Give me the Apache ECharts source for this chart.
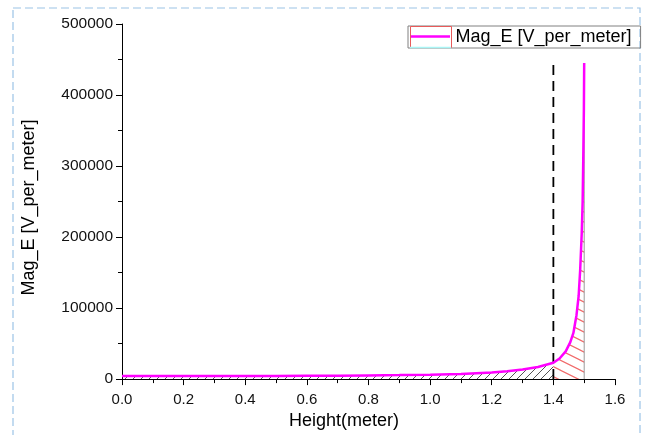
<!DOCTYPE html>
<html>
<head>
<meta charset="utf-8">
<script src="https://cdn.jsdelivr.net/npm/echarts@6/dist/echarts.min.js"></script>
<style>
html,body{margin:0;padding:0;background:#fff;}
#chart{width:648px;height:435px;}
</style>
</head>
<body>
<div id="chart"></div>
<script>
// ---- data ----
var heightX = [0, 0.1, 0.2, 0.3, 0.4, 0.5, 0.6, 0.7, 0.8, 0.9, 1.0, 1.1, 1.2, 1.25, 1.3, 1.35, 1.4, 1.42, 1.44, 1.455, 1.465, 1.475, 1.482, 1.487, 1.492, 1.495, 1.497, 1.499, 1.5];
var magE    = [4200, 4200, 4300, 4300, 4400, 4500, 4600, 4700, 5200, 5600, 6200, 7200, 9300, 11000, 13500, 17000, 23000, 29000, 39000, 52000, 65000, 90000, 117000, 154000, 205000, 250000, 310000, 380000, 445000];
var markerX = [1.4, 1.4];
var markerY = [0, 447000];
var edgeX = [1.5, 1.5];
var edgeY = [0, 445000];
var splitAt = 1.4;
var seriesName = 'Mag_E [V_per_meter]';
var xTicks = [0.0, 0.2, 0.4, 0.6, 0.8, 1.0, 1.2, 1.4, 1.6];
var yTicks = [0, 100000, 200000, 300000, 400000, 500000];

function pairs(xs, ys, test) {
  var out = [];
  for (var i = 0; i < xs.length; i++) { if (!test || test(xs[i])) out.push([xs[i], ys[i]]); }
  return out;
}

// hatch patterns
function hatchBlack() {
  var c = document.createElement('canvas'); c.width = 8; c.height = 8;
  var g = c.getContext('2d');
  g.strokeStyle = '#555'; g.lineWidth = 1;
  g.beginPath();
  g.moveTo(-1, 9); g.lineTo(9, -1);
  g.moveTo(-1, 1); g.lineTo(1, -1);
  g.moveTo(7, 9); g.lineTo(9, 7);
  g.stroke();
  return c;
}
function hatchRed() {
  var c = document.createElement('canvas'); c.width = 20; c.height = 10;
  var g = c.getContext('2d');
  g.strokeStyle = '#f06a6a'; g.lineWidth = 1.2;
  g.beginPath();
  g.moveTo(-2, -1); g.lineTo(22, 11);
  g.moveTo(-2, -11); g.lineTo(22, 1);
  g.moveTo(-2, 9); g.lineTo(22, 21);
  g.stroke();
  return c;
}

var chart = echarts.init(document.getElementById('chart'), null, {renderer: 'canvas'});
var FONT = 'Liberation Sans, Arial, sans-serif';

var option = {
  animation: false,
  backgroundColor: '#fff',
  grid: {left: 122, right: 33, top: 24, bottom: 51, containLabel: false},
  legend: {
    left: 408, top: 26,
    padding: [0, 9, 0, 2],
    itemWidth: 41, itemHeight: 21, itemGap: 5,
    borderColor: '#808080', borderWidth: 1,
    textStyle: {fontSize: 18, fontFamily: FONT, color: '#000', padding: [0, 0, 0, -1]},
    data: [{name: seriesName, icon: 'rect', itemStyle: {color: 'rgba(0,0,0,0)', borderColor: '#e85a5a', borderWidth: 1}}]
  },
  xAxis: {
    type: 'value', min: 0, max: 1.6, interval: 0.2,
    name: 'Height(meter)', nameLocation: 'middle', nameGap: 25,
    nameTextStyle: {fontSize: 18, fontFamily: FONT, color: '#000', padding: [0, 49, 0, 0]},
    axisLine: {show: true, onZero: false, lineStyle: {color: '#000', width: 1}},
    axisTick: {show: true, inside: false, length: 6, lineStyle: {color: '#000'}},
    minorTick: {show: true, splitNumber: 2, length: 4, lineStyle: {color: '#000'}},
    splitLine: {show: false},
    axisLabel: {fontSize: 15, fontFamily: FONT, color: '#111', margin: 13, formatter: function (v) { return v.toFixed(1); }}
  },
  yAxis: {
    type: 'value', min: 0, max: 500000, interval: 100000,
    name: seriesName, nameLocation: 'middle', nameGap: 84,
    nameTextStyle: {fontSize: 18, fontFamily: FONT, color: '#000', padding: [0, 12, 0, 0]},
    axisLine: {show: true, onZero: false, lineStyle: {color: '#000', width: 1}},
    axisTick: {show: true, inside: false, length: 6, lineStyle: {color: '#000'}},
    minorTick: {show: true, splitNumber: 2, length: 4, lineStyle: {color: '#000'}},
    splitLine: {show: false},
    axisLabel: {fontSize: 15.5, fontFamily: FONT, color: '#111', margin: 9, formatter: function (v) { return String(v); }}
  },
  series: [
    {
      name: 'fillLeft', type: 'line', data: pairs(heightX, magE, function (x) { return x <= splitAt; }),
      showSymbol: false, symbol: 'none', silent: true, z: 1,
      lineStyle: {width: 0, opacity: 0},
      areaStyle: {color: {image: hatchBlack(), repeat: 'repeat'}, opacity: 1, origin: 'start'}
    },
    {
      name: 'fillRight', type: 'line', data: pairs(heightX, magE, function (x) { return x >= splitAt; }),
      showSymbol: false, symbol: 'none', silent: true, z: 1,
      lineStyle: {width: 0, opacity: 0},
      areaStyle: {color: {image: hatchRed(), repeat: 'repeat'}, opacity: 1, origin: 'start'}
    },
    {
      name: 'edge', type: 'line', data: pairs(edgeX, edgeY), showSymbol: false, symbol: 'none', silent: true, z: 2,
      lineStyle: {color: '#9a9a9a', width: 1}
    },
    {
      name: 'marker', type: 'line', data: pairs(markerX, markerY), showSymbol: false, symbol: 'none', silent: true, z: 3,
      lineStyle: {color: '#000', width: 1.8, type: [10, 6]}
    },
    {
      name: seriesName, type: 'line', data: pairs(heightX, magE), showSymbol: false, symbol: 'none', z: 5,
      lineStyle: {color: '#ff00ff', width: 2.5}, itemStyle: {color: '#ff00ff'}
    }
  ],
  graphic: [
    {type: 'rect', silent: true, z: -10, shape: {x: 13, y: 8, width: 627, height: 440},
     style: {fill: 'none', stroke: '#9cc3e6', lineWidth: 1.2, lineDash: [8, 4]}},
    {type: 'line', silent: true, z: 100, shape: {x1: 411, y1: 36.5, x2: 450, y2: 36.5}, style: {stroke: '#ff00ff', lineWidth: 2.5}},
    {type: 'line', silent: true, z: 100, shape: {x1: 410, y1: 47.5, x2: 451, y2: 47.5}, style: {stroke: '#aaf5f5', lineWidth: 1.5}}
  ]
};
chart.setOption(option);
</script>
</body>
</html>
